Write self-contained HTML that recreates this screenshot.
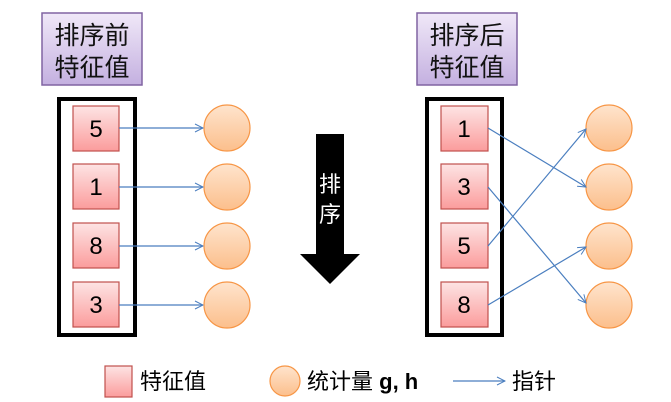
<!DOCTYPE html><html><head><style>body{margin:0;background:#fff}</style></head><body>
<svg width="671" height="402" xmlns="http://www.w3.org/2000/svg" style="display:block;font-family:'Liberation Sans','Noto Sans CJK SC',sans-serif">
<defs>
<linearGradient id="r" x1="0" y1="0" x2="0" y2="1"><stop offset="0" stop-color="#fde4e4"/><stop offset="1" stop-color="#fb9c9c"/></linearGradient>
<linearGradient id="o" x1="0" y1="0" x2="0" y2="1"><stop offset="0" stop-color="#fee4cd"/><stop offset="1" stop-color="#fcbf8c"/></linearGradient>
<linearGradient id="p" x1="0" y1="0" x2="0" y2="1"><stop offset="0" stop-color="#f0e8f8"/><stop offset="1" stop-color="#c4b0e0"/></linearGradient>
<marker id="a" markerWidth="10" markerHeight="10" refX="9" refY="5" orient="auto" markerUnits="userSpaceOnUse"><path d="M1,1 L9,5 L1,9" fill="none" stroke="#4a7ebf" stroke-width="1"/></marker>
</defs>
<g stroke="#8064a2" stroke-width="1.5" fill="url(#p)">
<rect x="42" y="13" width="100" height="72"/><rect x="417" y="13" width="100" height="72"/></g>
<g font-size="25" text-anchor="middle" fill="#111">
<text x="92" y="44">排序前</text><text x="92" y="76">特征值</text>
<text x="467" y="44">排序后</text><text x="467" y="76">特征值</text></g>
<g fill="none" stroke="#000" stroke-width="4"><rect x="59" y="99" width="76" height="236"/><rect x="427" y="99" width="75" height="236"/></g>
<g fill="url(#r)" stroke="#c0504d" stroke-width="1.2">
<rect x="73" y="106" width="46" height="45"/><rect x="73" y="164" width="46" height="45"/><rect x="73" y="223" width="46" height="45"/><rect x="73" y="282" width="46" height="45"/>
<rect x="441" y="106" width="47" height="45"/><rect x="441" y="164" width="47" height="45"/><rect x="441" y="223" width="47" height="45"/><rect x="441" y="282" width="47" height="45"/>
<rect x="105" y="366" width="27" height="31"/></g>
<g font-size="24" text-anchor="middle" fill="#000">
<text x="96" y="137">5</text><text x="96" y="195">1</text><text x="96" y="254">8</text><text x="96" y="313">3</text>
<text x="464" y="137">1</text><text x="464" y="195">3</text><text x="464" y="254">5</text><text x="464" y="313">8</text></g>
<g fill="url(#o)" stroke="#f79646" stroke-width="1.2">
<circle cx="227" cy="128" r="23"/><circle cx="227" cy="187" r="23"/><circle cx="227" cy="246" r="23"/><circle cx="227" cy="305" r="23"/>
<circle cx="609" cy="128" r="23"/><circle cx="609" cy="187" r="23"/><circle cx="609" cy="246" r="23"/><circle cx="609" cy="305" r="23"/>
<circle cx="285" cy="381" r="15"/></g>
<g stroke="#4a7ebf" stroke-width="1.2" marker-end="url(#a)">
<line x1="119" y1="128" x2="203" y2="128"/><line x1="119" y1="187" x2="203" y2="187"/><line x1="119" y1="246" x2="203" y2="246"/><line x1="119" y1="305" x2="203" y2="305"/>
<line x1="488" y1="128" x2="586" y2="187"/><line x1="488" y1="187" x2="586" y2="303"/><line x1="488" y1="246" x2="586" y2="129"/><line x1="488" y1="305" x2="586" y2="247"/>
<line x1="453" y1="381" x2="505" y2="381"/></g>
<path d="M316,134 H344 V254 H360 L330,284 L300,254 H316 Z" fill="#000"/>
<g font-size="22" fill="#fff" text-anchor="middle"><text x="330" y="192">排</text><text x="330" y="222">序</text></g>
<g font-size="22" fill="#000"><text x="140" y="389">特征值</text><text x="307" y="389">统计量 <tspan font-weight="bold">g, h</tspan></text><text x="512" y="389">指针</text></g>
</svg></body></html>
